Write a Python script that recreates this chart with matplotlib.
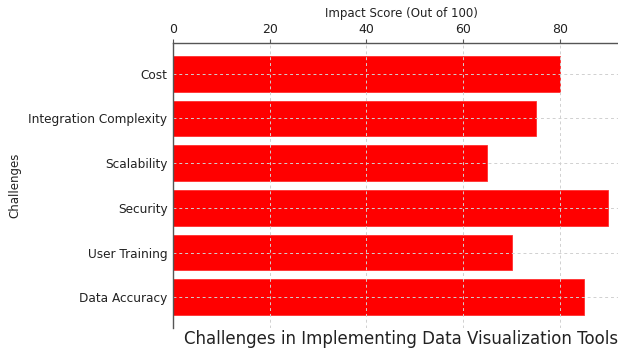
import matplotlib
matplotlib.use("Agg")
from matplotlib import pyplot as plt

# data (bottom to top as drawn)
challenges = ["Data Accuracy", "User Training", "Security",
              "Scalability", "Integration Complexity", "Cost"]
scores = [85, 70, 90, 65, 75, 80]
ticks = [0, 20, 40, 60, 80]

fig = plt.figure(figsize=(6.18, 3.49), dpi=100)
ax = fig.add_axes([173/618, 21/349, (630-173)/618, 285/349])

ax.barh(challenges, scores, height=0.8, color="#ff0000", edgecolor="#ff3030", linewidth=0.6)

ax.set_xlim(0, 94.5)
ax.set_xticks(ticks)
ax.xaxis.tick_top()
ax.xaxis.set_label_position("top")
ax.set_xlabel("Impact Score (Out of 100)", fontsize=8.5, color="#222222", labelpad=4)
ax.set_ylabel("Challenges", fontsize=8.5, color="#222222", labelpad=5)
ax.tick_params(axis="x", labelsize=9, length=3, width=0.8, colors="#555555", labelcolor="#222222", pad=2)
ax.tick_params(axis="y", labelsize=8.7, length=0, labelcolor="#222222", pad=4)

for s in ["bottom", "right"]:
    ax.spines[s].set_visible(False)
for s in ["left", "top"]:
    ax.spines[s].set_color("#555555")
    ax.spines[s].set_linewidth(1.0)
    ax.spines[s].set_zorder(5)

ax.grid(True, linestyle=(0, (3, 3)), color="#d0d0d0", linewidth=0.7)
ax.set_axisbelow(False)

ax.text(0.5, -0.008, "Challenges in Implementing Data Visualization Tools",
        transform=ax.transAxes, ha="center", va="top", fontsize=12, color="#222222")

fig.savefig("out.png", dpi=100)
